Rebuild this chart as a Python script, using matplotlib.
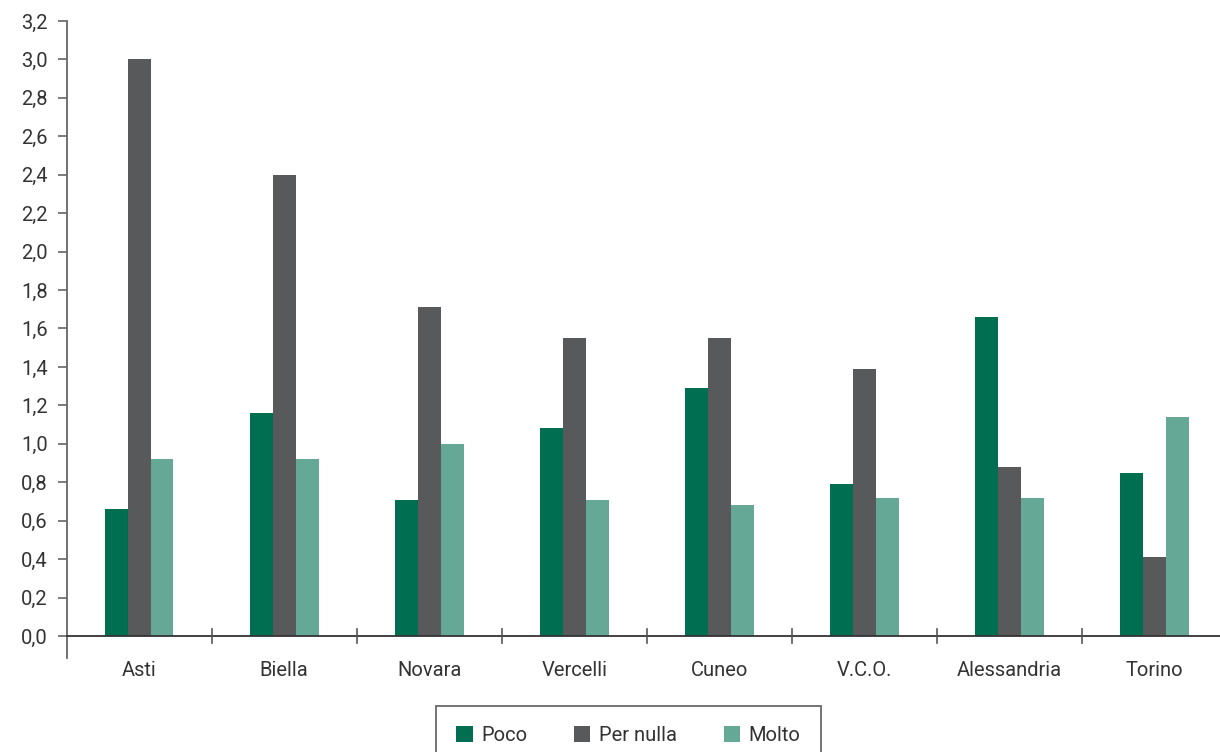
import matplotlib
matplotlib.use("Agg")
import matplotlib.pyplot as plt
import numpy as np

plt.rcParams['font.family'] = ['Roboto', 'DejaVu Sans']

province = ["Asti", "Biella", "Novara", "Vercelli", "Cuneo", "V.C.O.", "Alessandria", "Torino"]
poco = [0.66, 1.16, 0.71, 1.08, 1.29, 0.79, 1.66, 0.85]
per_nulla = [3.00, 2.40, 1.71, 1.55, 1.55, 1.39, 0.88, 0.41]
molto = [0.92, 0.92, 1.00, 0.71, 0.68, 0.72, 0.72, 1.14]
series_names = ["Poco", "Per nulla", "Molto"]
y_ticks = [0.0, 0.2, 0.4, 0.6, 0.8, 1.0, 1.2, 1.4, 1.6, 1.8, 2.0, 2.2, 2.4, 2.6, 2.8, 3.0, 3.2]

colors = ["#006e50", "#58595b", "#66a896"]
text_color = "#333333"

fig = plt.figure(figsize=(12.2, 7.52), dpi=100)
ax = fig.add_axes([66.5 / 1220, 1 - 658 / 752, 8 * 145.1 / 1220, (658 - 21) / 752])

x = np.arange(len(province))
w = 0.158
for i, (vals, name) in enumerate(zip([poco, per_nulla, molto], series_names)):
    ax.bar(x + (i - 1) * w, vals, width=w, color=colors[i], label=name, zorder=2)

ax.set_xlim(-0.5, len(province) - 0.5)
ax.set_ylim(-0.1146, 3.2)

# baseline at zero and separators between categories
ax.axhline(0, color="#333333", lw=1.3, zorder=3, clip_on=False)
for b in np.arange(0.5, len(province) - 0.5, 1.0):
    ax.plot([b, b], [-0.036, 0.036], color="#555555", lw=1.2, zorder=3)

for s in ["top", "right", "bottom"]:
    ax.spines[s].set_visible(False)
ax.spines["left"].set_color("#666666")
ax.spines["left"].set_linewidth(1.3)

ax.set_yticks(y_ticks)
ax.set_yticklabels([f"{v:.1f}".replace(".", ",") for v in y_ticks])
ax.tick_params(axis="y", length=6.5, width=1.2, color="#666666", pad=7,
               labelsize=14.5, labelcolor=text_color)
ax.set_xticks(x)
ax.set_xticklabels(province)
ax.tick_params(axis="x", length=0, pad=2, labelsize=14.5, labelcolor=text_color)

leg = fig.legend(loc="upper center", bbox_to_anchor=(628.5 / 1220, 1 - 706 / 752),
                 ncol=3, frameon=True, fancybox=False, fontsize=14.5,
                 handlelength=0.8, handleheight=0.8, handletextpad=0.45,
                 columnspacing=2.3, borderpad=1.0, borderaxespad=0)
leg.get_frame().set_edgecolor("#444444")
leg.get_frame().set_linewidth(1.3)
for t in leg.get_texts():
    t.set_color(text_color)

fig.savefig("out.png", dpi=100)
